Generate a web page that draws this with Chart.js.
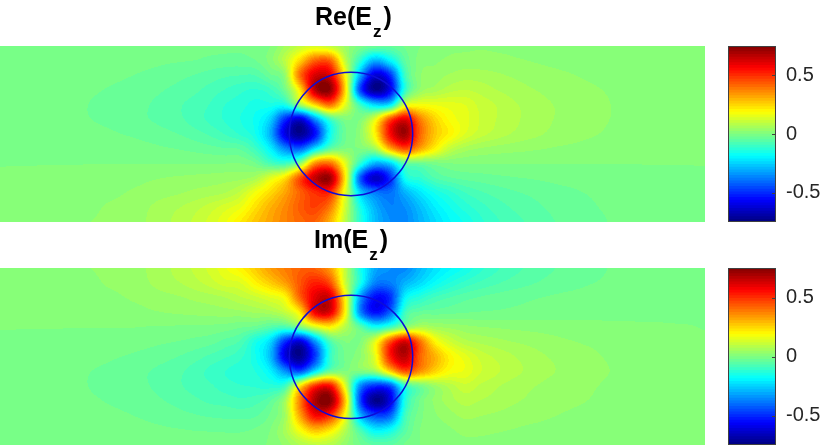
<!DOCTYPE html>
<html>
<head>
<meta charset="utf-8">
<style>
  html, body { margin: 0; padding: 0; background: #fff; }
  canvas { position: absolute; }
</style>
<script src="https://cdn.jsdelivr.net/npm/chart.js@4"></script>
</head>
<body>
<canvas id="heatRe" width="705" height="222" style="left:0;top:0"></canvas>
<canvas id="barRe" width="125" height="222" style="left:705px;top:0"></canvas>
<canvas id="heatIm" width="705" height="223" style="left:0;top:222px"></canvas>
<canvas id="barIm" width="125" height="223" style="left:705px;top:222px"></canvas>
<script>
// Field values, in hundredths. One row per horizontal grid line, top to bottom; 48 columns.
const reEz = [
  [-.1,-.1,-.2,-.2,-.3,-.4,-.5,-.6,-.7,-.8,-.9,-1,-1.2,-1.3,-1.5,-1.7, -1.8,-1,0,5,10,13,10,4,-1,-3,-4,-2,0,1.5,2,2, 2.2,2.1,2,1.7,1.5,1.3,1.1,.9,.8,.6,.5,.4,.3,.2,.2,.1],
  [-.2,-.2,-.3,-.4,-.5,-.6,-.8,-1,-1.2,-1.4,-1.7,-2,-2.2,-2.4,-3,-3.3, -3.4,-2.5,1,9,25,42,42,10,-12,-30,-20,-5,1,2,2.8,3.2, 3.2,3,2.7,2.4,2.1,1.8,1.5,1.3,1.1,.9,.8,.6,.5,.4,.3,.2],
  [-.3,-.4,-.5,-.6,-.8,-1,-1.3,-1.7,-2,-2.4,-2.9,-3.4,-4.1,-4.8,-5.7,-6.6, -7,-7,-3,3,40,62,60,20,-30,-62,-50,-10,2,3.5,5,6, 5.8,5.2,4.5,3.9,3.3,2.9,2.5,2.1,1.8,1.5,1.2,.9,.7,.5,.4,.3],
  [-.4,-.5,-.6,-.8,-1.1,-1.5,-2,-2.4,-2.8,-3.3,-4,-4.7,-5.5,-6.5,-8,-9.5, -11,-12,-10,-2,22,66,72,25,-45,-72,-58,-12,3,6,8.5,9.4, 8.5,7.2,6.2,5.2,4.5,3.9,3.3,2.8,2.4,2,1.6,1.2,.9,.7,.5,.4],
  [-.5,-.6,-.8,-1,-1.4,-1.9,-2.4,-2.8,-3.2,-3.8,-4.7,-5.5,-6.8,-8,-9.5,-11.7, -13,-15,-15,-15,5,25,40,15,-10,-25,-22,13,17,16,15,14, 11,9.4,7.7,6.5,5.3,4.6,3.9,3.3,2.7,2.2,1.7,1.3,1,.8,.6,.5],
  [-.5,-.6,-.8,-1,-1.4,-1.8,-2.3,-2.7,-3.2,-3.9,-4.7,-5.5,-6.6,-8.2,-10,-12, -14,-17,-25,-50,-62,-35,-10,0,0,15,45,60,38,25,18,15, 11.5,9.5,8,6.6,5.4,4.6,3.8,3.2,2.6,2.2,1.7,1.3,1,.8,.6,.5],
  [-.4,-.5,-.6,-.7,-1,-1.3,-1.6,-1.9,-2.3,-2.7,-3.3,-4,-4.8,-6,-7.5,-9.5, -12,-16,-30,-60,-72,-55,-18,-3,2,20,55,70,42,27,20,14, 10.5,8.5,7,5.8,4.9,4,3.4,2.8,2.3,1.9,1.5,1.2,.9,.7,.5,.4],
  [-.2,-.3,-.3,-.4,-.5,-.6,-.8,-1,-1.2,-1.4,-1.7,-2.1,-2.5,-3.1,-3.8,-4.5, -5,-10,-20,-36,-42,-22,-5,0,0,5,30,45,32,20,10,6, 4.5,3.8,3.3,2.9,2.5,2.1,1.8,1.5,1.3,1.1,.9,.7,.6,.5,.4,.3],
  [-.05,-.05,-.05,-.05,-.05,-.05,-.05,-.05,-.05,-.05,-.05,-.05,-.05,-.05,-.05,-.05, 0,-2,-8,-10,2,35,40,15,-12,-30,-25,-5,-3,-1,0,.1, .05,.05,.05,.05,.05,.05,.05,.05,.05,.05,.05,.05,.05,.05,.05,.05],
  [.2,.2,.3,.3,.4,.5,.6,.8,1,1.4,2,2.4,2.7,3,3.3,3.7, 4,6,14,23,45,65,70,22,-42,-65,-50,-17,-12,-7,-5,-4, -3.5,-3,-2.6,-2.3,-2,-1.7,-1.4,-1.2,-1,-.8,-.7,-.5,-.4,-.3,-.3,-.2],
  [.4,.4,.5,.5,.6,.8,1,1.5,2.1,2.8,3.4,3.9,4.5,5.3,6,7, 10,17,24,32,42,50,50,15,-25,-38,-40,-30,-22,-16,-12.5,-9.4, -7.5,-6.2,-5.2,-4.5,-3.9,-3.2,-2.8,-2.3,-1.9,-1.5,-1.2,-.9,-.7,-.5,-.4,-.3],
  [.4,.5,.6,.7,.9,1.1,1.6,2.5,3,3.7,4.7,6,7,8.5,10.5,13, 16,23,30,36,43,47,38,12,-15,-30,-37,-35,-28,-21,-16.5,-13, -10.5,-8.5,-7,-5.8,-4.9,-4.1,-3.4,-2.8,-2.3,-1.9,-1.4,-1.1,-.9,-.7,-.5,-.4],
  [.4,.5,.7,.9,1.1,1.5,2.3,2.8,3.3,4,5,6.5,8,10,12.5,16, 21,27,32,37,41,42,30,9,-13,-28,-35,-36,-30,-24,-19,-16, -12.5,-10,-8.3,-7,-5.6,-4.7,-3.9,-3.2,-2.6,-2.1,-1.7,-1.3,-1,-.8,-.6,-.5],
];

const imEz = [
  [.4,.5,.7,.9,1.1,1.5,2.3,2.8,3.3,4,5,6.5,8,10,12.5,16, 20,26,33,38,42,42,33,10,-15,-31,-35,-36,-29,-23,-19,-16, -12.5,-10,-8.2,-6.9,-5.5,-4.7,-3.8,-3.1,-2.6,-2.1,-1.7,-1.3,-1,-.8,-.6,-.5],
  [.4,.5,.6,.7,.9,1.1,1.6,2.5,3,3.7,4.7,6,7,8.5,10.5,13, 14,20,26,33,44,52,45,12,-15,-37,-38,-30,-24,-18,-14,-11, -9,-7.5,-6.3,-5.3,-4.5,-3.8,-3.2,-2.6,-2.2,-1.8,-1.4,-1.1,-.9,-.7,-.5,-.4],
  [.4,.4,.5,.5,.6,.8,1,1.5,2.1,2.8,3.4,3.9,4.5,5.3,6,7, 9,11,14,19,42,60,62,20,-32,-55,-50,-20,-13,-9,-7,-5.5, -4.5,-3.8,-3.2,-2.8,-2.4,-2,-1.7,-1.5,-1.2,-1,-.8,-.6,-.5,-.4,-.3,-.3],
  [.2,.2,.3,.3,.4,.5,.6,.8,1,1.4,2,2.4,2.7,3,3.3,3.7, 4,5,6,10,22,58,60,20,-35,-55,-42,-10,-4,-3.5,-3,-2.5, -2.2,-2,-1.8,-1.6,-1.4,-1.2,-1,-.9,-.8,-.7,-.6,-.5,-.4,-.3,-.3,-.2],
  [.05,.05,.05,.05,.05,.05,.05,.05,.05,.05,-.1,-.2,-.3,-.4,-.6,-1, -2,-3,-6,-8,0,13,20,8,-5,-17,-10,2,7,5,4,3, 2.4,2.1,1.8,1.6,1.4,1.2,1,.8,.7,.5,.4,.3,.2,.1,.05,-.05],
  [-.2,-.3,-.3,-.4,-.5,-.6,-.8,-1,-1.2,-1.4,-1.7,-2.1,-2.5,-3.1,-3.8,-5.5, -7.5,-15,-24,-50,-62,-35,-8,0,0,15,45,62,40,20,12,8, 6.5,5.6,4.8,4.2,3.6,3,2.5,2.1,1.8,1.5,1.2,.9,.7,.5,.3,.2],
  [-.4,-.5,-.6,-.7,-1,-1.3,-1.6,-1.9,-2.3,-2.7,-3.3,-4,-4.8,-6,-7.5,-9, -11,-16,-28,-60,-72,-48,-12,-2,2,15,52,66,42,30,20,15, 11,9,7.5,6.2,5.1,4.3,3.6,3,2.4,2,1.5,1.2,.9,.7,.5,.4],
  [-.5,-.6,-.8,-1,-1.4,-1.8,-2.3,-2.7,-3.2,-3.9,-4.7,-5.5,-6.6,-8.2,-10,-11.7, -13,-14,-20,-35,-45,-22,-3,0,0,4,25,45,35,25,18,16, 12,10,8.2,6.8,5.5,4.7,3.8,3.2,2.6,2.2,1.7,1.3,1,.8,.6,.5],
  [-.5,-.6,-.8,-1,-1.4,-1.9,-2.4,-2.8,-3.2,-3.8,-4.7,-5.5,-6.8,-8,-9,-10.5, -11.5,-12,-13,-10,22,50,55,15,-35,-50,-45,-12,-2,4,8,11, 9,7.5,6.2,5.2,4.5,3.8,3.2,2.7,2.3,1.9,1.5,1.2,.9,.7,.5,.4],
  [-.4,-.5,-.6,-.8,-1.1,-1.5,-2,-2.4,-2.8,-3.3,-4,-4.7,-5.5,-6.5,-7.5,-8, -8.8,-8,-5,5,38,68,73,28,-45,-73,-60,-15,-2,3,6,8, 7,6.2,5.2,4.5,3.9,3.3,2.8,2.4,2,1.6,1.3,1,.8,.6,.4,.3],
  [-.3,-.4,-.5,-.6,-.8,-1,-1.3,-1.7,-2,-2.4,-2.9,-3.4,-4,-4.5,-5,-5.3, -5.5,-5,-2,5,32,56,50,18,-28,-46,-42,-10,-1,2,3.8,5.3, 4.8,4.3,3.8,3.2,2.8,2.4,2,1.7,1.4,1.1,.9,.7,.5,.4,.3,.2],
  [-.2,-.2,-.3,-.4,-.5,-.6,-.8,-1,-1.2,-1.4,-1.7,-2,-2.2,-2.4,-2.5,-2.6, -2.6,-2,0,6,18,28,22,8,-8,-20,-17,-6,0,1,2,3, 2.9,2.6,2.3,2,1.8,1.5,1.3,1.1,.9,.7,.6,.5,.4,.3,.2,.1],
  [-.1,-.1,-.2,-.2,-.3,-.4,-.5,-.6,-.7,-.8,-.9,-1,-1.2,-1.3,-1.5,-1.6, -1.7,-1,.5,3,7,9,8,3,-2,-5,-5,-2,0,1,1.5,1.8, 1.8,1.7,1.5,1.4,1.2,1,.9,.8,.6,.5,.4,.3,.2,.2,.1,.1],
];

// Circle outline, in grid units
const reCircle = [{ x: 23.4, y: 6 }];
const imCircle = [{ x: 23.4, y: 6.03 }];
const circleRadius = 4.11;

const colorTicks = [-0.5, 0, 0.5];
const colorMin = -0.75;
const colorMax = 0.75;
const colorLevels = 64;

const TEXT_COLOR = '#262626';
const FONT = '"Liberation Sans", Arial, sans-serif';

// Jet colormap, t in 0..1
function jet(t) {
  const ramp = (c) => Math.max(0, Math.min(1, 1.5 - Math.abs(4 * t - c)));
  return [ramp(3), ramp(2), ramp(1)].map((c) => Math.round(c * 255));
}

function levelColor(k) {
  return jet((k + 0.5) / colorLevels);
}

function catmull(a, b, c, d, f) {
  return b + 0.5 * f * (c - a + f * (2 * a - 5 * b + 4 * c - d + f * (3 * (b - c) + d - a)));
}

// Smooth shading between grid values, like MATLAB's shading interp
function sampleGrid(rows, gx, gy) {
  const nx = rows[0].length - 1;
  const ny = rows.length - 1;
  const ix = Math.max(0, Math.min(nx - 1, Math.floor(gx)));
  const iy = Math.max(0, Math.min(ny - 1, Math.floor(gy)));
  const fx = gx - ix;
  const fy = gy - iy;
  const col = [];
  for (let j = -1; j <= 2; j++) {
    const r = rows[Math.max(0, Math.min(ny, iy + j))];
    col.push(catmull(
      r[Math.max(0, ix - 1)], r[ix], r[ix + 1], r[Math.min(nx, ix + 2)], fx));
  }
  return catmull(col[0], col[1], col[2], col[3], fy) / 100;
}

// Paints the field under the circle using the chart's own scales
function heatPlugin(rows) {
  return {
    id: 'fieldShade',
    beforeDatasetsDraw(chart) {
      const { ctx, chartArea, scales } = chart;
      const x0 = Math.round(chartArea.left);
      const y0 = Math.round(chartArea.top);
      const w = Math.round(chartArea.right - chartArea.left);
      const h = Math.round(chartArea.bottom - chartArea.top);
      const img = ctx.createImageData(w, h);
      for (let py = 0; py < h; py++) {
        const gy = scales.y.getValueForPixel(y0 + py + 0.5);
        for (let px = 0; px < w; px++) {
          const gx = scales.x.getValueForPixel(x0 + px + 0.5);
          const v = sampleGrid(rows, gx, gy);
          const t = (v - colorMin) / (colorMax - colorMin);
          const k = Math.max(0, Math.min(colorLevels - 1, Math.floor(t * colorLevels)));
          const c = levelColor(k);
          const i = (py * w + px) * 4;
          img.data[i] = c[0];
          img.data[i + 1] = c[1];
          img.data[i + 2] = c[2];
          img.data[i + 3] = 255;
        }
      }
      ctx.putImageData(img, x0, y0);
    },
  };
}

// Title with a subscript, which the built-in title cannot do
function titlePlugin(before, sub, after, startX, baseline) {
  return {
    id: 'subTitle',
    afterDraw(chart) {
      const ctx = chart.ctx;
      ctx.save();
      ctx.fillStyle = '#000';
      ctx.textBaseline = 'alphabetic';
      ctx.textAlign = 'left';
      ctx.font = 'bold 25px ' + FONT;
      ctx.fillText(before, startX, baseline);
      let x = startX + ctx.measureText(before).width;
      ctx.font = 'bold 17px ' + FONT;
      ctx.fillText(sub, x + 1, baseline + 12);
      x += ctx.measureText(sub).width + 3;
      ctx.font = 'bold 25px ' + FONT;
      ctx.fillText(after, x, baseline);
      ctx.restore();
    },
  };
}

function makeField(id, rows, circle, plugins) {
  return new Chart(document.getElementById(id), {
    type: 'scatter',
    data: {
      datasets: [{
        data: circle,
        backgroundColor: 'rgba(0,0,0,0)',
        borderColor: '#0c0cd8',
        borderWidth: 1.5,
        pointStyle: 'circle',
        pointRadius(ctx) {
          const s = ctx.chart.scales.x;
          return s.getPixelForValue(circleRadius) - s.getPixelForValue(0);
        },
      }],
    },
    options: {
      responsive: false,
      animation: false,
      events: [],
      layout: { padding: { top: 46 } },
      plugins: { legend: { display: false }, tooltip: { enabled: false } },
      scales: {
        x: { display: false, min: 0, max: rows[0].length - 1 },
        y: { display: false, min: 0, max: rows.length - 1, reverse: true },
      },
    },
    plugins: [heatPlugin(rows)].concat(plugins),
  });
}

const colorFrame = {
  id: 'colorFrame',
  afterDraw(chart) {
    const { ctx, chartArea, scales } = chart;
    ctx.save();
    ctx.strokeStyle = '#404040';
    ctx.lineWidth = 1;
    ctx.strokeRect(Math.round(chartArea.left) + 0.5, Math.round(chartArea.top) + 0.5,
      Math.round(chartArea.width) - 1, Math.round(chartArea.height) - 1);
    ctx.beginPath();
    colorTicks.forEach((v) => {
      const y = Math.round(scales.y.getPixelForValue(v)) + 0.5;
      ctx.moveTo(chartArea.right - 4, y);
      ctx.lineTo(chartArea.right, y);
    });
    ctx.stroke();
    ctx.restore();
  },
};

function makeColorbar(id) {
  // Drawn bottom band on top, each bar running from the axis minimum, so no seams show
  const datasets = [];
  for (let k = 0; k < colorLevels; k++) {
    const c = levelColor(k);
    datasets.push({
      data: [[colorMin, colorMin + (k + 1) * (colorMax - colorMin) / colorLevels]],
      backgroundColor: `rgb(${c[0]},${c[1]},${c[2]})`,
      grouped: false,
      barPercentage: 1,
      categoryPercentage: 1,
    });
  }
  return new Chart(document.getElementById(id), {
    type: 'bar',
    data: { labels: ['E'], datasets },
    options: {
      responsive: false,
      animation: false,
      events: [],
      layout: { padding: { top: 46, left: 23 } },
      plugins: { legend: { display: false }, tooltip: { enabled: false } },
      scales: {
        x: { display: false },
        y: {
          position: 'right',
          min: colorMin,
          max: colorMax,
          grid: { display: false },
          border: { display: false },
          afterBuildTicks(scale) { scale.ticks = colorTicks.map((v) => ({ value: v })); },
          afterFit(scale) {
            scale.width = 54;
            scale.paddingTop = 0;
            scale.paddingBottom = 0;
          },
          ticks: {
            autoSkip: false,
            padding: 2,
            color: TEXT_COLOR,
            font: { family: FONT, size: 20 },
            callback: (v) => String(v),
          },
        },
      },
    },
    plugins: [colorFrame],
  });
}

makeField('heatRe', reEz, reCircle, [titlePlugin('Re(E', 'z', ')', 315, 25)]);
makeField('heatIm', imEz, imCircle, [titlePlugin('Im(E', 'z', ')', 314, 26)]);
makeColorbar('barRe');
makeColorbar('barIm');
</script>
</body>
</html>
